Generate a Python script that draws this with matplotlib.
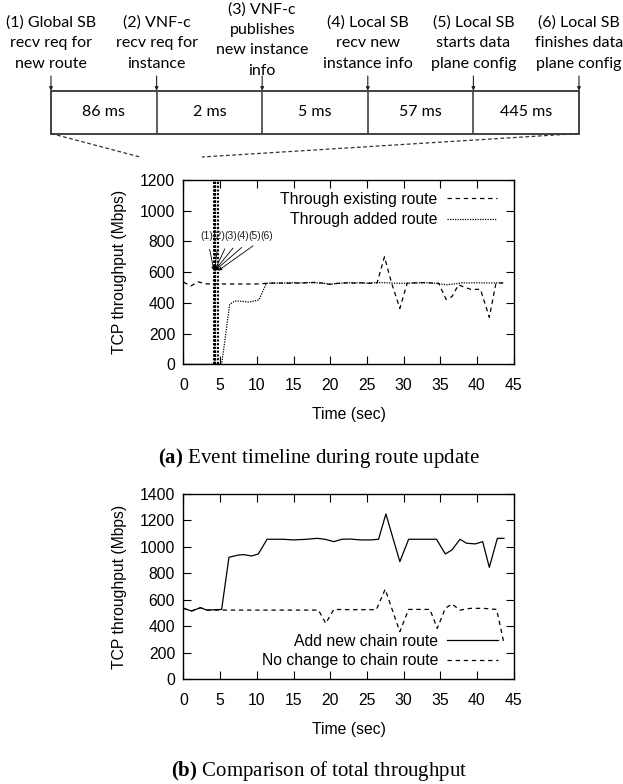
import numpy as np
import matplotlib.pyplot as plt
from matplotlib.patches import Rectangle

plt.rcParams['font.family'] = 'Liberation Sans'
plt.rcParams['mathtext.fontset'] = 'custom'
plt.rcParams['mathtext.rm'] = 'Liberation Serif'
plt.rcParams['mathtext.bf'] = 'Liberation Serif:bold'

# timeline of events (top)
event_labels = ['(1) Global SB\nrecv req for\nnew route',
                '(2) VNF-c\nrecv req for\ninstance',
                '(3) VNF-c\npublishes\nnew instance\ninfo',
                '(4) Local SB\nrecv new\ninstance info',
                '(5) Local SB\nstarts data\nplane config',
                '(6) Local SB\nfinishes data\nplane config']
durations_ms = [86, 2, 5, 57, 445]
event_start = 4.15   # sec, first event in plot (a)

# (a) throughput of each route
exist_t = [0, 1, 2, 3, 4, 5, 6, 7, 8, 9, 10, 11, 12, 13, 14, 15, 16, 17, 18, 19, 20,
           21, 22, 23, 24, 25, 26.4, 27.4, 28.4, 29.5, 30.5, 31.5, 32.5, 33.5, 34.8,
           35.8, 36.6, 37.5, 38.4, 39.2, 40.5, 41.7, 42.6, 43.6]
exist_v = [535, 510, 537, 524, 523, 523, 523, 523, 523, 523, 523, 526, 528, 530, 527,
           530, 528, 532, 533, 528, 520, 527, 530, 528, 532, 527, 530, 700, 525, 364,
           528, 530, 532, 530, 528, 423, 440, 518, 500, 488, 488, 306, 527, 530]
added_t = [0, 1, 2, 3, 4, 5.2, 6.3, 7, 8, 9, 10.3, 11.3, 12, 13, 14, 15, 16, 17, 18,
           19, 20, 21, 22, 23, 24, 25, 26, 27, 28, 29, 30, 31, 32, 33, 34, 35, 36, 37,
           38, 39, 40, 41, 42, 43, 43.6]
added_v = [0, 0, 0, 0, 0, 0, 390, 412, 410, 405, 420, 527, 530, 528, 530, 531, 530,
           532, 531, 528, 522, 527, 530, 531, 530, 529, 531, 532, 530, 528, 527, 529,
           530, 531, 530, 522, 518, 524, 530, 530, 531, 530, 530, 531, 530]

# (b) total throughput
new_t = [0, 1.1, 2.3, 3.2, 5.2, 6.2, 7.5, 8.2, 9.3, 10.2, 11.4, 13.6, 15, 16.8, 18.2,
         19.3, 20.5, 21.6, 22.7, 24.1, 25.5, 26.6, 27.6, 29.5, 30.7, 32.7, 34.5, 35.7,
         36.6, 37.7, 38.6, 39.8, 40.8, 41.7, 42.8, 43.7]
new_v = [536, 516, 541, 523, 528, 922, 939, 942, 932, 947, 1058, 1058, 1053, 1058,
         1065, 1058, 1040, 1058, 1060, 1053, 1053, 1058, 1249, 889, 1058, 1058, 1058,
         947, 977, 1058, 1028, 1023, 1040, 846, 1065, 1065]
same_t = [0, 1.1, 2.3, 3.2, 5.2, 10, 15, 18.4, 19.4, 20.5, 23, 26.3, 27.5, 29.5, 30.7,
          33.6, 34.6, 35.7, 36.6, 37.7, 39.1, 40.9, 42.7, 43.7]
same_v = [536, 516, 541, 523, 523, 523, 523, 523, 423, 528, 526, 526, 680, 360, 528,
          528, 385, 536, 569, 523, 536, 536, 528, 272]

fig = plt.figure(figsize=(6.23, 7.84), dpi=100)

# overlay in pixel coordinates for the timeline
ov = fig.add_axes([0, 0, 1, 1])
ov.set_xlim(0, 623)
ov.set_ylim(784, 0)
ov.axis('off')

box_l, box_r, box_t, box_b = 51, 579, 90.7, 133.5
xs = np.linspace(box_l, box_r, len(event_labels))
ov.add_patch(Rectangle((box_l, box_t), box_r - box_l, box_b - box_t,
                       fill=False, ec='#222222', lw=1.2))
for x in xs[1:-1]:
    ov.plot([x, x], [box_t, box_b], color='#444444', lw=1.2)
label_y = [43, 43, 40, 43, 43, 43]
for x, lab, ly in zip(xs, event_labels, label_y):
    ov.text(x, ly, lab, ha='center', va='center', fontsize=11.5,
            family='Lato', linespacing=1.6)
    ov.annotate('', xy=(x, box_t), xytext=(x, 76),
                arrowprops=dict(arrowstyle='-|>', color='#222222', lw=0.8,
                                mutation_scale=5, shrinkA=0, shrinkB=0))
for i, d in enumerate(durations_ms):
    ov.text((xs[i] + xs[i + 1]) / 2, 112, f'{d} ms', ha='center', va='center',
            fontsize=11.5, family='Lato')
ov.plot([box_l, 140], [box_b, 157], color='#333333', lw=0.9, ls=(0, (3, 2)))
ov.plot([box_r, 202], [box_b, 157], color='#333333', lw=0.9, ls=(0, (3, 2)))

ov.text(319, 458, r'$\mathbf{(a)}$ Event timeline during route update', ha='center',
        va='center', fontsize=15, family='Liberation Serif')
ov.text(319, 771, r'$\mathbf{(b)}$ Comparison of total throughput', ha='center',
        va='center', fontsize=15, family='Liberation Serif')


def style(ax, ymax, ystep):
    ax.set_xlim(0, 45)
    ax.set_ylim(0, ymax)
    ax.set_xticks(range(0, 46, 5))
    ax.set_yticks(range(0, ymax + 1, ystep))
    ax.tick_params(direction='in', length=6, width=0.8, top=True, right=True,
                   labelsize=11.3)
    ax.tick_params(axis='x', pad=10)
    ax.tick_params(axis='y', pad=6)
    for s in ax.spines.values():
        s.set_linewidth(1.0)
    ax.set_xlabel('Time (sec)', fontsize=11.3, labelpad=10)
    ax.set_ylabel('TCP throughput (Mbps)', fontsize=11.3, labelpad=9)


# plot (a)
ax1 = fig.add_axes([183.5 / 623, 1 - 364.3 / 784, 330 / 623, 184.3 / 784])
style(ax1, 1200, 200)
ax1.plot(exist_t, exist_v, color='black', lw=0.9, ls=(0, (3.5, 3)),
         label='Through existing route')
ax1.plot(added_t, added_v, color='black', lw=0.9, ls=(0, (1, 1)),
         label='Through added route')
event_t = event_start + np.cumsum([0] + durations_ms) / 1000.0
for t in event_t:
    ax1.axvline(t, color='black', lw=1.5, ls=(0, (1, 0.8)))
for i, t in enumerate(event_t):
    ax1.annotate(f'({i + 1})', xy=(t, 610), xytext=(3.2 + i * 1.63, 835),
                 ha='center', va='center', fontsize=7.5, color='#222222',
                 arrowprops=dict(arrowstyle='-|>', color='black', lw=0.6,
                                 mutation_scale=5, shrinkA=4, shrinkB=0))
ax1.legend(loc='upper right', frameon=False, markerfirst=False, fontsize=11.3,
           handlelength=3.2, handletextpad=0.6, labelspacing=0.35,
           bbox_to_anchor=(0.985, 1.0), borderaxespad=0.35)

# plot (b)
ax2 = fig.add_axes([183.5 / 623, 1 - 679.3 / 784, 330 / 623, 185.3 / 784])
style(ax2, 1400, 200)
ax2.plot(new_t, new_v, color='black', lw=0.9, label='Add new chain route')
ax2.plot(same_t, same_v, color='black', lw=0.9, ls=(0, (3.5, 3)),
         label='No change to chain route')
ax2.legend(loc='lower right', frameon=False, markerfirst=False, fontsize=11.3,
           handlelength=3.2, handletextpad=0.6, labelspacing=0.3,
           bbox_to_anchor=(0.985, 0.0), borderaxespad=0.3)

fig.savefig('out.png', dpi=100)
